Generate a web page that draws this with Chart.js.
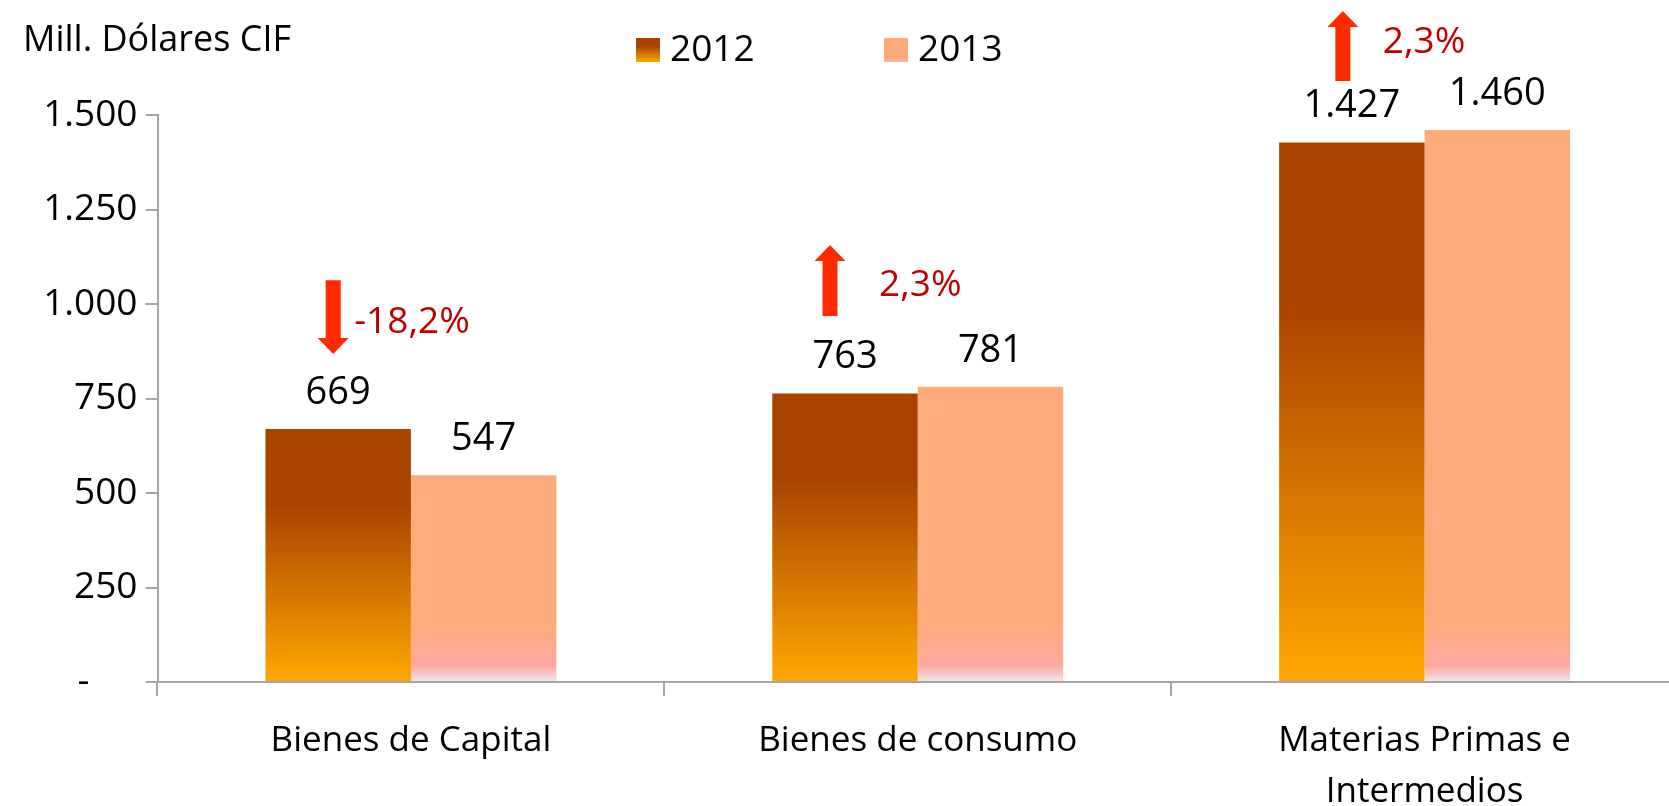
<!DOCTYPE html>
<html>
<head>
<meta charset="utf-8">
<script src="https://cdn.jsdelivr.net/npm/chart.js@4"></script>
<style>
  html, body { margin: 0; padding: 0; background: #fff; overflow: hidden; }
  #wrap { width: 1678px; height: 806px; }
</style>
</head>
<body>
<div id="wrap"><canvas id="chart"></canvas></div>
<script>
// Data
const categories = ['Bienes de Capital', 'Bienes de consumo', ['Materias Primas e', 'Intermedios']];
const years = ['2012', '2013'];
const values2012 = [669, 763, 1427];
const values2013 = [547, 781, 1460];
const changeLabels = ['-18,2%', '2,3%', '2,3%'];
const changeUp = [false, true, true];
const yTickStep = 250;
const yMax = 1500;
const unitLabel = 'Mill. Dólares CIF';

const FONT = "'Open Sans', 'Liberation Sans', sans-serif";

// Format number with dots
function formatNumber(num) {
    return num.toString().replace(/\B(?=(\d{3})+(?!\d))/g, '.');
}

// Bar fills, gradient per bar
function fill2012(ctx) {
    const chart = ctx.chart;
    if (!chart.chartArea || ctx.type !== 'data') return '#a84400';
    const y = chart.scales.y;
    const top = y.getPixelForValue(ctx.raw);
    const bottom = y.getPixelForValue(0);
    const g = chart.ctx.createLinearGradient(0, top, 0, bottom);
    g.addColorStop(0, '#a84400');
    g.addColorStop(0.3, '#a84400');
    g.addColorStop(1, '#ffa800');
    return g;
}

function fill2013(ctx) {
    const chart = ctx.chart;
    if (!chart.chartArea || ctx.type !== 'data') return '#fdab7a';
    const y = chart.scales.y;
    const top = y.getPixelForValue(ctx.raw);
    const bottom = y.getPixelForValue(0);
    const h = bottom - top;
    const g = chart.ctx.createLinearGradient(0, top, 0, bottom);
    g.addColorStop(0, '#fdab7a');
    g.addColorStop(Math.max(0, 1 - 58 / h), '#fdab7c');
    g.addColorStop(Math.max(0, 1 - 16 / h), '#ffa8a0');
    g.addColorStop(Math.max(0, 1 - 6 / h), '#f2d0d0');
    g.addColorStop(1, '#eeeeee');
    return g;
}

// Arrows + change labels, data labels, legend, unit label
const arrowPlacement = [
    { dx: -5, top: 1063, bottom: 868, textDx: 21, textY: 950 },
    { dx: -15, top: 1156, bottom: 968, textDx: 49, textY: 1050 },
    { dx: -9, top: 1775, bottom: 1590, textDx: 40, textY: 1693 }
];

function drawArrow(c, x, yTop, yBottom, up) {
    const shaft = 15, head = 31, headLen = 16;
    c.fillStyle = '#ff2a00';
    c.beginPath();
    if (up) {
        c.moveTo(x, yTop);
        c.lineTo(x + head / 2, yTop + headLen);
        c.lineTo(x + shaft / 2, yTop + headLen);
        c.lineTo(x + shaft / 2, yBottom);
        c.lineTo(x - shaft / 2, yBottom);
        c.lineTo(x - shaft / 2, yTop + headLen);
        c.lineTo(x - head / 2, yTop + headLen);
    } else {
        c.moveTo(x, yBottom);
        c.lineTo(x + head / 2, yBottom - headLen);
        c.lineTo(x + shaft / 2, yBottom - headLen);
        c.lineTo(x + shaft / 2, yTop);
        c.lineTo(x - shaft / 2, yTop);
        c.lineTo(x - shaft / 2, yBottom - headLen);
        c.lineTo(x - head / 2, yBottom - headLen);
    }
    c.closePath();
    c.fill();
}

const extrasPlugin = {
    id: 'extras',
    afterDraw(chart) {
        const c = chart.ctx;
        const y = chart.scales.y;
        c.save();
        c.textBaseline = 'middle';

        // Data labels
        c.font = '38px ' + FONT;
        c.fillStyle = '#000';
        c.textAlign = 'center';
        chart.data.datasets.forEach((ds, di) => {
            chart.getDatasetMeta(di).data.forEach((bar, i) => {
                c.fillText(formatNumber(ds.data[i]), bar.x, bar.y - 36);
            });
        });

        // Change arrows
        const bars2012 = chart.getDatasetMeta(0).data;
        arrowPlacement.forEach((p, i) => {
            const x = bars2012[i].x + p.dx;
            drawArrow(c, x, y.getPixelForValue(p.top), y.getPixelForValue(p.bottom), changeUp[i]);
            c.fillStyle = '#c00000';
            c.textAlign = 'left';
            c.font = '37px ' + FONT;
            c.fillText(changeLabels[i], x + p.textDx, y.getPixelForValue(p.textY));
        });

        // Unit label
        c.fillStyle = '#000';
        c.textAlign = 'left';
        c.font = '36px ' + FONT;
        c.fillText(unitLabel, 23, 41);

        // Legend
        const legendX = [636, 884];
        years.forEach((yr, i) => {
            const bx = legendX[i], by = 38, bs = 24;
            const g = c.createLinearGradient(0, by, 0, by + bs);
            if (i === 0) {
                g.addColorStop(0, '#a84400');
                g.addColorStop(0.35, '#a84400');
                g.addColorStop(1, '#ffa800');
            } else {
                g.addColorStop(0, '#fdab7a');
                g.addColorStop(0.8, '#fdab7a');
                g.addColorStop(1, '#f8b0b0');
            }
            c.fillStyle = g;
            c.fillRect(bx, by, bs, bs);
            c.fillStyle = '#000';
            c.font = '37px ' + FONT;
            c.fillText(yr, bx + 34, 50);
        });
        c.restore();
    }
};

const ctx = document.getElementById('chart').getContext('2d');

new Chart(ctx, {
    type: 'bar',
    data: {
        labels: categories,
        datasets: [
            { label: years[0], data: values2012, backgroundColor: fill2012, borderWidth: 0 },
            { label: years[1], data: values2013, backgroundColor: fill2013, borderWidth: 0 }
        ]
    },
    options: {
        responsive: true,
        maintainAspectRatio: false,
        animation: false,
        datasets: {
            bar: { categoryPercentage: 0.574, barPercentage: 1.0 }
        },
        layout: { padding: { top: 115, right: 0, left: 0, bottom: 0 } },
        plugins: {
            legend: { display: false },
            tooltip: { enabled: false }
        },
        scales: {
            y: {
                min: 0,
                max: yMax,
                afterFit(scale) { scale.width = 157.5; },
                ticks: {
                    stepSize: yTickStep,
                    color: '#000',
                    padding: 8,
                    font: { family: FONT, size: 37 },
                    callback: v => v === 0 ? '-     ' : formatNumber(v)
                },
                grid: {
                    drawOnChartArea: false,
                    drawTicks: true,
                    tickLength: 12,
                    color: '#a6a6a6',
                    lineWidth: 2
                },
                border: { color: '#a6a6a6', width: 2 }
            },
            x: {
                afterFit(scale) { scale.height = 124; },
                ticks: {
                    color: '#000',
                    padding: 20,
                    maxRotation: 0,
                    font: { family: FONT, size: 35, lineHeight: 1.45 }
                },
                grid: {
                    offset: true,
                    drawOnChartArea: false,
                    drawTicks: true,
                    tickLength: 14,
                    color: '#a6a6a6',
                    lineWidth: 2
                },
                border: { color: '#a6a6a6', width: 2 }
            }
        }
    },
    plugins: [extrasPlugin]
});
</script>
</body>
</html>
